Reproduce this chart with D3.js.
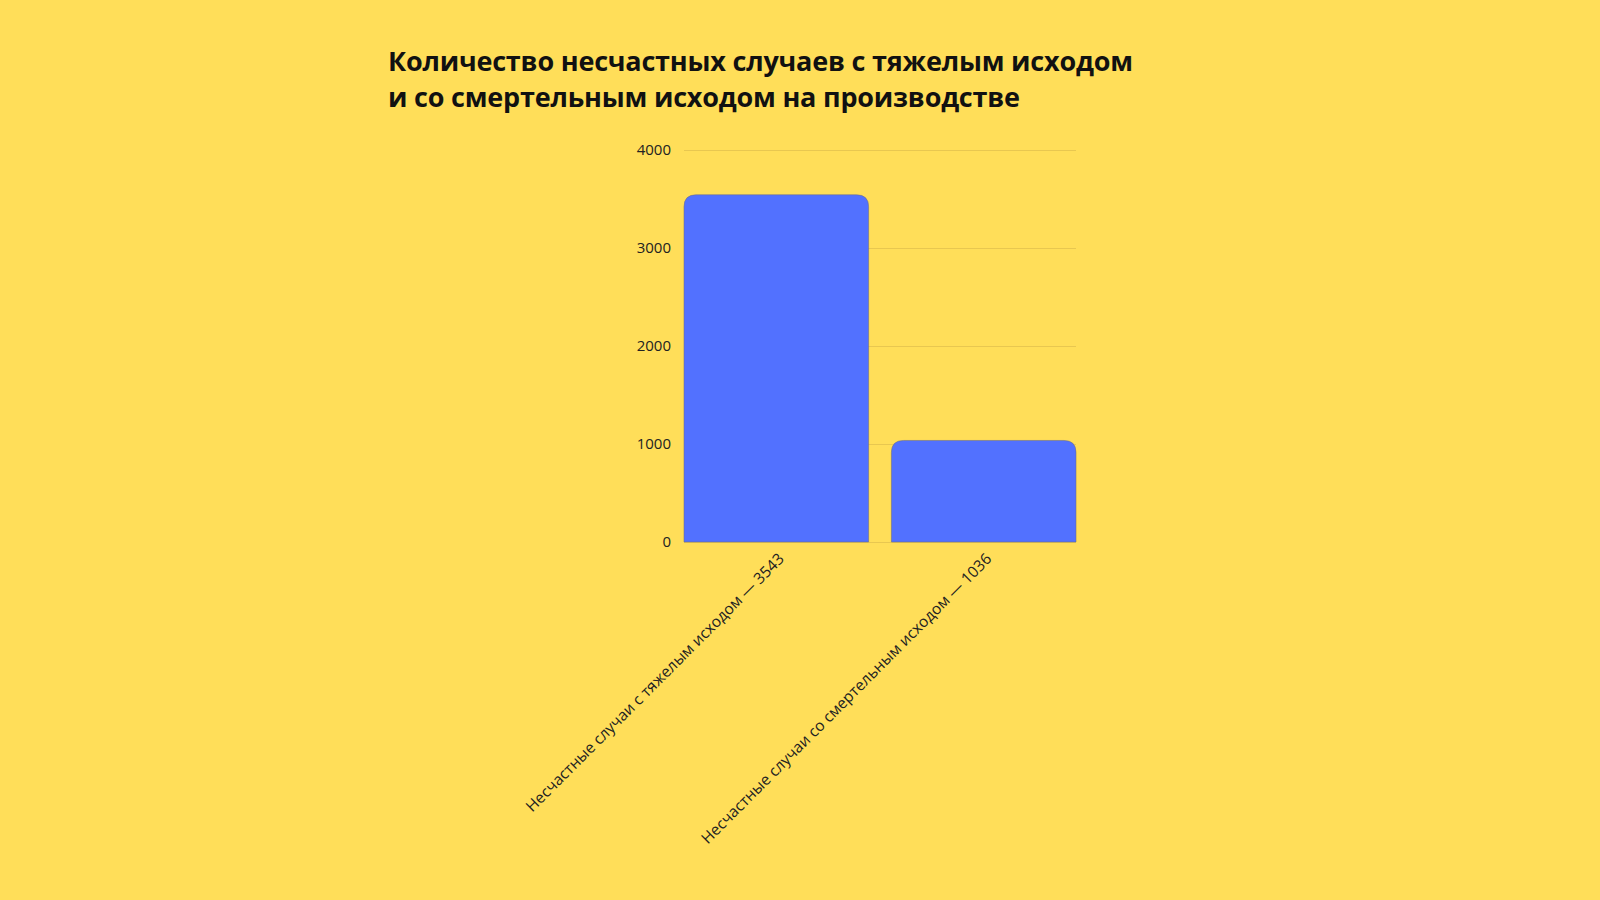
<!DOCTYPE html>
<html>
<head>
<meta charset="utf-8">
<script src="https://cdn.jsdelivr.net/npm/d3@7"></script>
<style>
    html, body { margin: 0; padding: 0; background: #FFDE59; }
    svg { display: block; }
</style>
</head>
<body>
<script>
// ---------------------------------------------------------------- //
//                              DATA                                //
// ---------------------------------------------------------------- //

var titleLines = [
    "Количество несчастных случаев с тяжелым исходом",
    "и со смертельным исходом на производстве"
];
var categories = [
    "Несчастные случаи с тяжелым исходом — 3543",
    "Несчастные случаи со смертельным исходом — 1036"
];
var values = [3543, 1036];
var yTicks = [0, 1000, 2000, 3000, 4000];

// ---------------------------------------------------------------- //
//                             LAYOUT                               //
// ---------------------------------------------------------------- //

var width = 1600, height = 900;
var plot = { left: 684, right: 1076, top: 150, bottom: 542 };
var font = "'Open Sans', 'Noto Sans', sans-serif";

var svg = d3.select("body")
    .append("svg")
    .attr("width", width)
    .attr("height", height);

svg.append("rect")
    .attr("width", width)
    .attr("height", height)
    .attr("fill", "#FFDE59");

// title
svg.append("g")
    .selectAll("text")
    .data(titleLines)
    .join("text")
    .attr("x", 388)
    .attr("y", function(d, i) { return 71 + i * 36; })
    .text(function(d) { return d; })
    .style("font-family", font)
    .style("font-weight", 700)
    .style("font-size", "27px")
    .style("letter-spacing", "-0.2px")
    .style("fill", "#111");

var x = d3.scaleBand()
    .domain(categories)
    .range([plot.left, plot.right])
    .paddingInner(0.11)
    .paddingOuter(0);

var y = d3.scaleLinear()
    .domain([0, 4000])
    .range([plot.bottom, plot.top]);

// gridlines + y labels
var yAxis = svg.append("g")
    .attr("transform", "translate(" + plot.left + ",0)")
    .call(d3.axisLeft(y)
        .tickValues(yTicks)
        .tickSize(-(plot.right - plot.left))
        .tickPadding(13)
        .tickFormat(d3.format("d")));

yAxis.select(".domain").remove();
yAxis.selectAll(".tick line")
    .attr("stroke", "#E8C750")
    .attr("stroke-width", 1);
yAxis.selectAll(".tick text")
    .style("font-family", font)
    .style("font-size", "15px")
    .style("fill", "#222");

// bars with rounded top corners
function barPath(x0, y0, w, h, r)
{
    r = Math.min(r, w / 2, h);
    return "M" + x0 + "," + (y0 + h) +
        "V" + (y0 + r) +
        "Q" + x0 + "," + y0 + " " + (x0 + r) + "," + y0 +
        "H" + (x0 + w - r) +
        "Q" + (x0 + w) + "," + y0 + " " + (x0 + w) + "," + (y0 + r) +
        "V" + (y0 + h) + "Z";
}

svg.append("g")
    .selectAll("path")
    .data(values)
    .join("path")
    .attr("d", function(d, i) {
        return barPath(x(categories[i]), y(d), x.bandwidth(), y(0) - y(d), 12);
    })
    .attr("fill", "#5271FF")
    .attr("stroke", "rgba(110,110,130,0.55)")
    .attr("stroke-width", 1);

// x labels, rotated
svg.append("g")
    .selectAll("text")
    .data(categories)
    .join("text")
    .attr("transform", function(d) {
        return "translate(" + (x(d) + x.bandwidth() / 2 + 5) + "," + (plot.bottom + 14) + ") rotate(-45)";
    })
    .attr("text-anchor", "end")
    .attr("dy", "0.35em")
    .text(function(d) { return d; })
    .style("font-family", font)
    .style("font-size", "15.5px")
    .style("fill", "#222");
</script>
</body>
</html>
